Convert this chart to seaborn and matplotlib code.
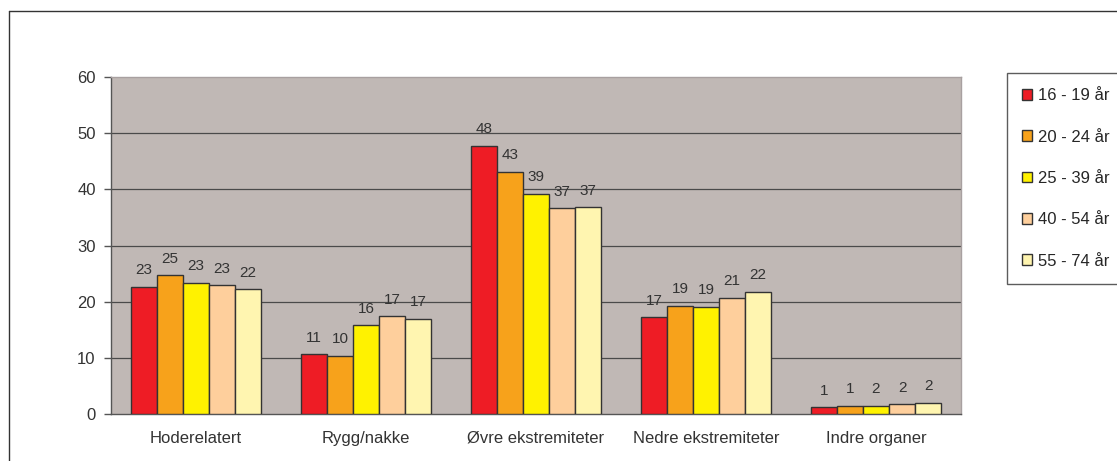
import pandas as pd
import matplotlib.pyplot as plt
import seaborn as sns
from matplotlib.lines import Line2D

# Data
categories = ["Hoderelatert", "Rygg/nakke", "Øvre ekstremiteter", "Nedre ekstremiteter", "Indre organer"]
age_groups = ["16 - 19 år", "20 - 24 år", "25 - 39 år", "40 - 54 år", "55 - 74 år"]
age_16_19 = [22.7, 10.6, 47.7, 17.2, 1.2]
age_20_24 = [24.7, 10.4, 43.1, 19.3, 1.4]
age_25_39 = [23.4, 15.8, 39.2, 19.1, 1.5]
age_40_54 = [22.9, 17.4, 36.6, 20.7, 1.7]
age_55_74 = [22.2, 17.0, 36.8, 21.7, 2.0]
colors = ["#ee1c25", "#f7a21b", "#fff200", "#fecf9c", "#fff5b0"]

series = [age_16_19, age_20_24, age_25_39, age_40_54, age_55_74]
rows = []
for grp, vals in zip(age_groups, series):
    for cat, v in zip(categories, vals):
        rows.append({"kategori": cat, "alder": grp, "verdi": v})
df = pd.DataFrame(rows)

sns.set_style("white")
plt.rcParams["font.family"] = ["Liberation Sans", "DejaVu Sans"]

fig = plt.figure(figsize=(11.17, 4.61), dpi=100)
ax = fig.add_axes([111 / 1117, 47 / 461, 850 / 1117, 337 / 461])

sns.barplot(data=df, x="kategori", y="verdi", hue="alder", order=categories,
            hue_order=age_groups, palette=colors, width=0.765, gap=0,
            edgecolor="#333333", linewidth=1.0, saturation=1, ax=ax, zorder=3)

ax.set_facecolor("#c0b8b5")
ax.set_ylim(0, 60)
ax.set_xlim(-0.5, 4.5)
ax.set_yticks(range(0, 61, 10))
ax.set_xlabel("")
ax.set_ylabel("")
for y in range(10, 60, 10):
    ax.axhline(y, color="#4a4a4a", lw=0.9, zorder=1)

# category boundary ticks like the original
ax.set_xticks([i - 0.5 for i in range(6)], minor=True)
ax.tick_params(axis="x", which="major", length=0, pad=12, labelsize=12, labelcolor="#333333")
ax.tick_params(axis="x", which="minor", length=5, width=1, color="#555555", direction="out")
ax.tick_params(axis="y", length=5, width=1, color="#555555", direction="out",
               labelsize=12, labelcolor="#333333", pad=6, left=True)

for side in ["left", "bottom"]:
    ax.spines[side].set_color("#555555")
    ax.spines[side].set_linewidth(1)
for side in ["top", "right"]:
    ax.spines[side].set_color("#a8a0a0")
    ax.spines[side].set_linewidth(1)

for cont in ax.containers:
    ax.bar_label(cont, labels=[f"{round(b.get_height())}" for b in cont],
                 padding=7, fontsize=11, color="#333333")

handles, labels = ax.get_legend_handles_labels()
ax.legend(handles, labels, loc="upper left", bbox_to_anchor=(1006.7 / 1117, 1 - 73.3 / 461),
          bbox_transform=fig.transFigure, frameon=True, fancybox=False, edgecolor="#333333",
          fontsize=12, handlelength=0.6, handleheight=0.6, handletextpad=0.35,
          labelspacing=1.58, borderpad=0.9, borderaxespad=0)
ax.get_legend().get_frame().set_linewidth(1)

# outer chart border (cropped at right and bottom)
fig.add_artist(Line2D([9.5 / 1117, 9.5 / 1117], [0, 1 - 11 / 461], color="#333333", lw=1))
fig.add_artist(Line2D([9.5 / 1117, 1], [1 - 11 / 461, 1 - 11 / 461], color="#333333", lw=1))

fig.savefig("out.png", dpi=100)
